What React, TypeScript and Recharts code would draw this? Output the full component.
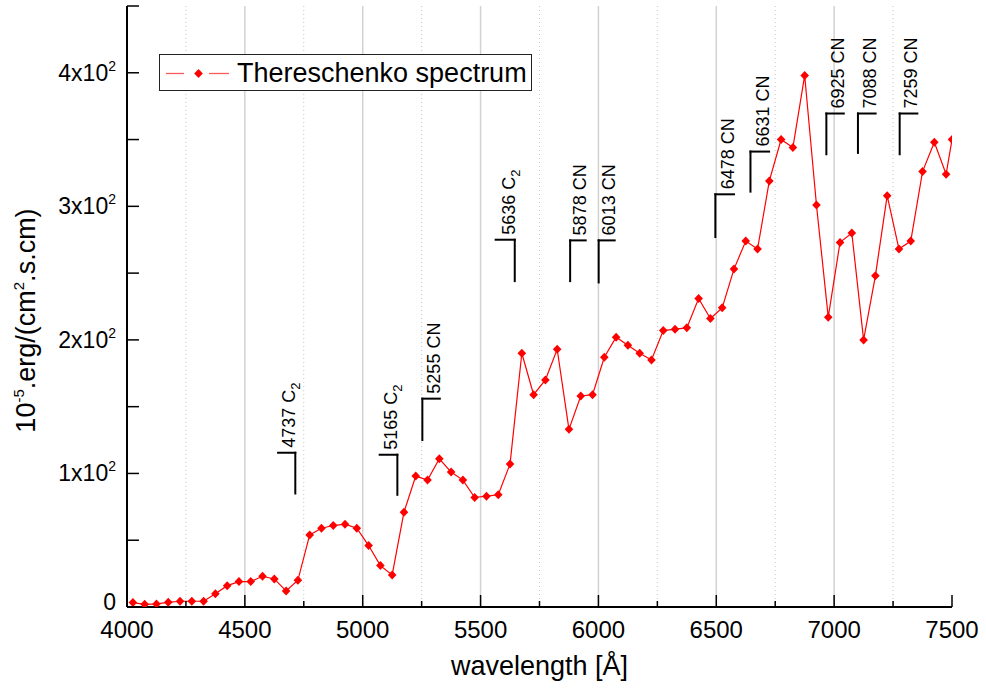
import React from "react";
import { LineChart, Line, XAxis, YAxis, ReferenceLine, ReferenceDot } from "recharts";

// wavelength [Å] of each sample
const wavelengths = [
  4025, 4075, 4125, 4175, 4225, 4275, 4325, 4375, 4425, 4475, 4525, 4575, 4625, 4675, 4725,
  4775, 4825, 4875, 4925, 4975, 5025, 5075, 5125, 5175, 5225, 5275, 5325, 5375, 5425, 5475,
  5525, 5575, 5625, 5675, 5725, 5775, 5825, 5875, 5925, 5975, 6025, 6075, 6125, 6175, 6225,
  6275, 6325, 6375, 6425, 6475, 6525, 6575, 6625, 6675, 6725, 6775, 6825, 6875, 6925, 6975,
  7025, 7075, 7125, 7175, 7225, 7275, 7325, 7375, 7425, 7475, 7500,
];

// flux in 10^-5 erg/(cm2.s.cm)
const flux = [
  3.3, 2.0, 2.3, 3.5, 4.3, 4.3, 4.3, 10, 16, 19, 19, 23, 21, 12, 20,
  54, 59, 61, 62, 59, 46, 31, 24, 71, 98, 95, 111, 101, 95, 82,
  83, 84, 107, 190, 159, 170, 193, 133, 158, 159, 187, 202, 196, 190, 185,
  207, 208, 209, 231, 216, 224, 253, 274, 268, 319, 350, 344, 398, 301, 217,
  273, 280, 200, 248, 308, 268, 274, 326, 348, 324, 350,
];

const xMajorTicks = [4000, 4500, 5000, 5500, 6000, 6500, 7000, 7500];
const xMinorTicks = [4250, 4750, 5250, 5750, 6250, 6750, 7250];
const yTicks = [0, 50, 100, 150, 200, 250, 300, 350, 400, 450];
const yLabelTicks = [0, 100, 200, 300, 400];

// line identifications
const annoLabels = ["4737 C", "5165 C", "5255 CN", "5636 C", "5878 CN", "6013 CN", "6478 CN", "6631 CN", "6925 CN", "7088 CN", "7259 CN"];
const annoSubs = ["2", "2", "", "2", "", "", "", "", "", "", ""];
const annoX = [4714, 5147, 5253, 5645, 5880, 6001, 6496, 6645, 6967, 7101, 7278];
const annoEnd = [4641, 5072, 5327, 5564, 5946, 6069, 6575, 6724, 7041, 7176, 7353];
const annoTop = [115.5, 114, 156, 275, 274.5, 274.5, 309, 341, 369.5, 369.5, 369.5];
const annoBottom = [85, 84, 125, 244, 244, 243, 277, 311, 339, 340, 339];

const data = wavelengths.map((w, i) => ({ w, flux: flux[i] }));

const RED = "#ff0000";
const FONT = '"Liberation Sans", Arial, sans-serif';

const Diamond = ({ cx, cy }: any) => {
  if (cx == null || cy == null) return <g />;
  return (
    <path
      d={`M${cx},${cy - 4.5}L${cx + 4.3},${cy}L${cx},${cy + 4.5}L${cx - 4.3},${cy}Z`}
      fill={RED}
    />
  );
};

const BottomTick = ({ x, y, payload }: any) => {
  const major = xMajorTicks.includes(payload.value);
  return (
    <g>
      <line x1={x} y1={y} x2={x} y2={y - (major ? 12 : 6)} stroke="#000" strokeWidth={1.5} />
      {major && (
        <text x={x} y={y + 31} textAnchor="middle" fontSize={24} fill="#000">
          {payload.value}
        </text>
      )}
    </g>
  );
};

const TopTick = ({ x, y, payload }: any) => {
  const major = xMajorTicks.includes(payload.value);
  return <line x1={x} y1={y} x2={x} y2={y + (major ? 12 : 6)} stroke="#000" strokeWidth={1.5} />;
};

const LeftTick = ({ x, y, payload }: any) => {
  const v = payload.value;
  return (
    <g>
      <line x1={x} y1={y} x2={x + 12} y2={y} stroke="#000" strokeWidth={1.5} />
      {yLabelTicks.includes(v) && (
        <text x={x - 11} y={v === 0 ? y + 3 : y + 8} textAnchor="end" fontSize={23} fill="#000">
          {v === 0 ? "0" : `${v / 100}x10`}
          {v !== 0 && (
            <tspan dy={-10} fontSize={14}>
              2
            </tspan>
          )}
        </text>
      )}
    </g>
  );
};

const RightTick = ({ x, y }: any) => (
  <line x1={x} y1={y} x2={x - 12} y2={y} stroke="#000" strokeWidth={1.5} />
);

const YTitle = ({ viewBox }: any) => {
  const cy = viewBox.y + viewBox.height / 2 + 14;
  return (
    <text transform={`translate(34.5,${cy}) rotate(-90)`} textAnchor="middle" fontSize={27} fill="#000">
      10
      <tspan dy={-11} fontSize={15}>-5</tspan>
      <tspan dy={11}>.erg/(cm</tspan>
      <tspan dy={-11} fontSize={15}>2</tspan>
      <tspan dy={11}>.s.cm)</tspan>
    </text>
  );
};

const XTitle = ({ viewBox }: any) => (
  <text x={viewBox.x + viewBox.width / 2} y={viewBox.y + 68} textAnchor="middle" fontSize={27} fill="#000">
    wavelength [Å]
  </text>
);

const AnnoText = ({ cx, cy, label, sub }: any) => (
  <text transform={`translate(${cx},${cy - 5}) rotate(-90)`} fontSize={18} fill="#000">
    {label}
    {sub && (
      <tspan dy={5} fontSize={13}>
        {sub}
      </tspan>
    )}
  </text>
);

const SpectrumLegend = () => (
  <div
    style={{
      position: "absolute",
      left: 159,
      top: 54,
      width: 373,
      height: 37,
      boxSizing: "border-box",
      border: "1px solid #222",
      background: "#fff",
    }}
  >
    <svg width={76} height={35} style={{ position: "absolute", left: 0, top: 0 }}>
      <line x1={6} y1={18.5} x2={24} y2={18.5} stroke="#ff5a5a" strokeWidth={1.3} />
      <Diamond cx={38.5} cy={18.5} />
      <line x1={49} y1={18.5} x2={69} y2={18.5} stroke="#ff5a5a" strokeWidth={1.3} />
    </svg>
    <span
      style={{
        position: "absolute",
        left: 77,
        top: 1,
        fontSize: 27,
        lineHeight: "35px",
        color: "#000",
        whiteSpace: "nowrap",
      }}
    >
      Thereschenko spectrum
    </span>
  </div>
);

export default function App() {
  return (
    <div style={{ position: "absolute", left: 0, top: 0, width: 986, height: 690, fontFamily: FONT, background: "#fff" }}>
      <LineChart width={986} height={690} data={data} margin={{ top: 6, right: 34, bottom: 0, left: 0 }}>
        <XAxis
          xAxisId="top"
          orientation="top"
          dataKey="w"
          type="number"
          domain={[4000, 7500]}
          allowDataOverflow
          ticks={[...xMajorTicks, ...xMinorTicks]}
          interval={0}
          height={0}
          tickSize={0}
          tickMargin={0}
          tickLine={false}
          tick={<TopTick />}
          axisLine={{ stroke: "#000", strokeWidth: 2 }}
        />
        <XAxis
          xAxisId="bottom"
          dataKey="w"
          type="number"
          domain={[4000, 7500]}
          allowDataOverflow
          ticks={[...xMajorTicks, ...xMinorTicks]}
          interval={0}
          height={83}
          tickSize={0}
          tickMargin={0}
          tickLine={false}
          tick={<BottomTick />}
          axisLine={{ stroke: "#000", strokeWidth: 2 }}
          label={<XTitle />}
        />
        <YAxis
          yAxisId="left"
          type="number"
          domain={[0, 450]}
          allowDataOverflow
          ticks={yTicks}
          interval={0}
          width={127}
          tickSize={0}
          tickMargin={0}
          tickLine={false}
          tick={<LeftTick />}
          axisLine={{ stroke: "#000", strokeWidth: 2 }}
          label={<YTitle />}
        />
        <YAxis
          yAxisId="right"
          orientation="right"
          type="number"
          domain={[0, 450]}
          allowDataOverflow
          ticks={yTicks}
          interval={0}
          width={0}
          tickSize={0}
          tickMargin={0}
          tickLine={false}
          tick={<RightTick />}
          axisLine={{ stroke: "#000", strokeWidth: 2 }}
        />

        {xMajorTicks.slice(1, -1).map((v) => (
          <ReferenceLine key={`g${v}`} xAxisId="bottom" yAxisId="left" x={v} stroke="#d2d2d2" strokeWidth={1.5} />
        ))}
        {xMinorTicks.map((v) => (
          <ReferenceLine key={`m${v}`} xAxisId="bottom" yAxisId="left" x={v} stroke="#c4c4c4" strokeWidth={1} strokeDasharray="1 3" />
        ))}

        <Line
          xAxisId="bottom"
          yAxisId="left"
          type="linear"
          dataKey="flux"
          name="Thereschenko spectrum"
          stroke={RED}
          strokeWidth={1.2}
          dot={<Diamond />}
          activeDot={false}
          isAnimationActive={false}
        />

        {annoX.map((x, i) => (
          <ReferenceLine
            key={`v${i}`}
            xAxisId="bottom"
            yAxisId="left"
            segment={[{ x, y: annoBottom[i] }, { x, y: annoTop[i] }]}
            stroke="#000"
            strokeWidth={2}
            strokeLinecap="square"
          />
        ))}
        {annoX.map((x, i) => (
          <ReferenceLine
            key={`h${i}`}
            xAxisId="bottom"
            yAxisId="left"
            segment={[{ x, y: annoTop[i] }, { x: annoEnd[i], y: annoTop[i] }]}
            stroke="#000"
            strokeWidth={2}
            strokeLinecap="square"
          />
        ))}
        {annoX.map((x, i) => (
          <ReferenceDot
            key={`t${i}`}
            xAxisId="bottom"
            yAxisId="left"
            x={Math.max(x, annoEnd[i])}
            y={annoTop[i]}
            r={0}
            shape={(p: any) => <AnnoText cx={p.cx} cy={p.cy} label={annoLabels[i]} sub={annoSubs[i]} />}
          />
        ))}
      </LineChart>
      <SpectrumLegend />
    </div>
  );
}
